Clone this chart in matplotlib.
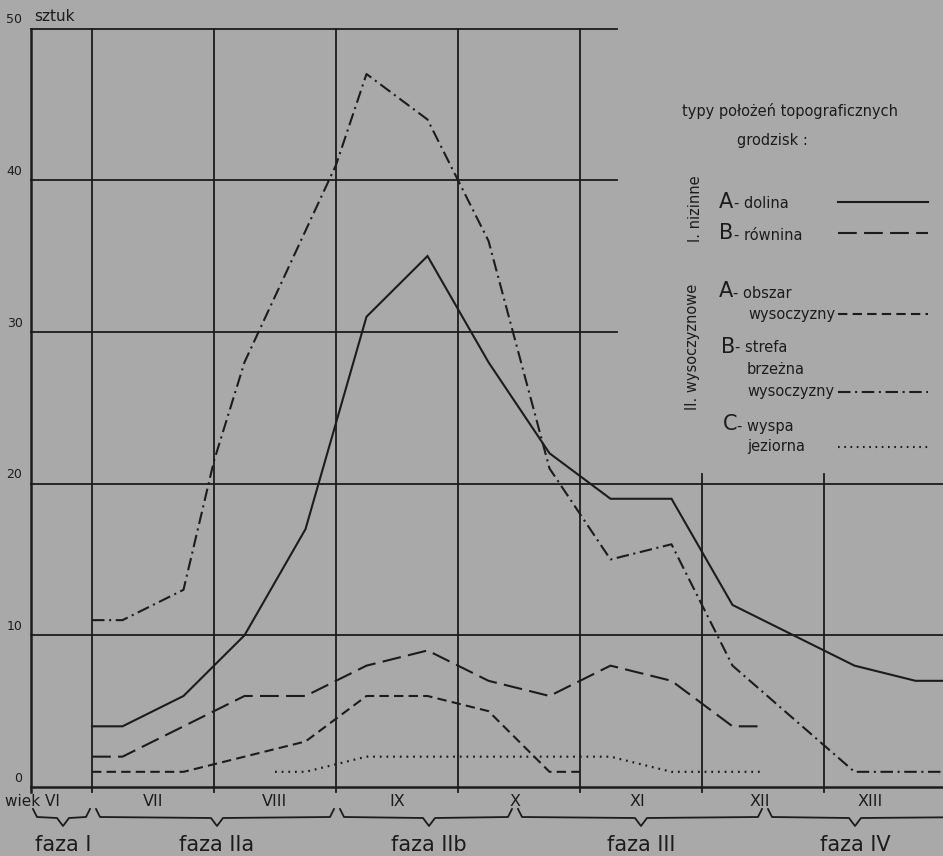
import matplotlib
matplotlib.use("Agg")
import matplotlib.pyplot as plt
from matplotlib import font_manager
from matplotlib.lines import Line2D

# font: narrow sans if we have one
names = set(f.name for f in font_manager.fontManager.ttflist)
FONT = "Liberation Sans Narrow" if "Liberation Sans Narrow" in names else "DejaVu Sans"
plt.rcParams['font.family'] = [FONT, 'DejaVu Sans']

BG = "#a9a9a9"
INK = "#1c1c1c"

# x in "century" units: 7.0 = boundary VI/VII, 8.0 = VII/VIII, ...
dolina_x = [7.0, 7.25, 7.75, 8.25, 8.75, 9.25, 9.75, 10.25, 10.75, 11.25, 11.75, 12.25, 13.25, 13.75, 14.0]
dolina_y = [4, 4, 6, 10, 17, 31, 35, 28, 22, 19, 19, 12, 8, 7, 7]

rownina_x = [7.0, 7.25, 8.25, 8.75, 9.25, 9.75, 10.25, 10.75, 11.25, 11.75, 12.25, 12.5]
rownina_y = [2, 2, 6, 6, 8, 9, 7, 6, 8, 7, 4, 4]

obszar_x = [7.0, 7.75, 8.75, 9.25, 9.75, 10.25, 10.75, 11.0]
obszar_y = [1, 1, 3, 6, 6, 5, 1, 1]

strefa_x = [7.0, 7.25, 7.75, 8.0, 8.25, 9.0, 9.25, 9.75, 10.25, 10.75, 11.25, 11.75, 12.25, 13.25, 14.0]
strefa_y = [11, 11, 13, 21.5, 28, 41, 47, 44, 36, 21, 15, 16, 8, 1, 1]

wyspa_x = [8.5, 8.75, 9.25, 11.25, 11.75, 12.5]
wyspa_y = [1, 1, 2, 2, 1, 1]

yticks = [0, 10, 20, 30, 40, 50]
centuries = ["VII", "VIII", "IX", "X", "XI", "XII", "XIII"]
phases = ["faza I", "faza IIa", "faza IIb", "faza III", "faza IV"]

W, H = 943, 856
fig = plt.figure(figsize=(W / 100, H / 100), dpi=100, facecolor=BG)
ax = fig.add_axes([0, 0, 1, 1])
ax.set_facecolor(BG)
ax.axis("off")

# pixel -> data mapping of the original sheet
X0 = 7 - 92 / 122
X1 = 7 + (W - 92) / 122
Y0 = (787 - H) / 15.17
Y1 = 787 / 15.17
ax.set_xlim(X0, X1)
ax.set_ylim(Y0, Y1)

def fx(px):
    return px / W

def fy(py):
    return 1 - py / H

# grid
lw_grid = 1.3
for v in [50, 40, 30]:
    ax.plot([6.5, 11.3], [v, v], color=INK, lw=lw_grid)
for v in [20, 10]:
    ax.plot([6.5, X1], [v, v], color=INK, lw=lw_grid)
ax.plot([6.5, X1], [0, 0], color=INK, lw=1.8)
ax.plot([6.5, 6.5], [-0.3, 50], color=INK, lw=1.8)
for c in [7, 8, 9, 10, 11]:
    ax.plot([c, c], [-0.35, 50], color=INK, lw=lw_grid)
for c in [12, 13]:
    ax.plot([c, c], [-0.35, 20.6], color=INK, lw=lw_grid)

# y labels
for v in yticks:
    ax.text(6.5 - 0.07, v + 0.15, str(v), ha="right", va="bottom", fontsize=9, color=INK)
ax.text(6.53, 50.3, "sztuk", ha="left", va="bottom", fontsize=11, color=INK)

# data lines
lw = 1.5
ax.plot(dolina_x, dolina_y, color=INK, lw=lw, solid_joinstyle="miter")
ax.plot(rownina_x, rownina_y, color=INK, lw=lw, linestyle=(0, (9, 3.5)))
ax.plot(obszar_x, obszar_y, color=INK, lw=lw, linestyle=(0, (4.5, 2.5)))
ax.plot(strefa_x, strefa_y, color=INK, lw=lw, linestyle=(0, (6, 2.2, 1, 2.2)))
ax.plot(wyspa_x, wyspa_y, color=INK, lw=1.6, linestyle=(0, (0.8, 2.2)))

# century labels
cent_pos = [7.5, 8.5, 9.5, 10.47, 11.47, 12.47, 13.38]
ax.text(fx(60), fy(801), "wiek VI", transform=fig.transFigure, ha="right", va="center",
        fontsize=11, color=INK)
for c, name in zip(cent_pos, centuries):
    ax.text(c, (787 - 801) / 15.17, name, ha="center", va="center", fontsize=11.5, color=INK)

# braces and phase names
braces = [(33, 63, 90), (96, 217, 334), (340, 429, 512), (518, 641, 762), (768, 855, 990)]
for (a, t, b), name in zip(braces, phases):
    xs = [a, a + 4, t - 6, t, t + 6, b - 4, b]
    ys = [809, 817, 818, 826, 818, 817, 809]
    fig.add_artist(Line2D([fx(p) for p in xs], [fy(p) for p in ys],
                          transform=fig.transFigure, color=INK, lw=1.3))
    fig.text(fx(t), fy(845), name, ha="center", va="center", fontsize=15, color=INK)

# legend
def t(px, py, s, size=10.5, **kw):
    fig.text(fx(px), fy(py), s, ha=kw.pop("ha", "left"), va="center", fontsize=size,
             color=INK, **kw)

t(682, 111, "typy położeń topograficznych")
t(737, 140, "grodzisk :")
t(695, 209, "I. nizinne", ha="center", rotation=90)
t(692, 347, "II. wysoczyznowe", ha="center", rotation=90)

t(719, 202, "A", 15); t(734, 204, "- dolina")
t(719, 233, "B", 15); t(734, 235, "- równina")
t(719, 291, "A", 15); t(733, 293, "- obszar")
t(748, 314, "wysoczyzny")
t(721, 347, "B", 15); t(735, 348, "- strefa")
t(747, 369, "brzeżna")
t(747, 392, "wysoczyzny")
t(723, 424, "C", 15); t(737, 426, "- wyspa")
t(747, 446, "jeziorna")

samples = [
    (202, dict(linestyle="-")),
    (233, dict(linestyle=(0, (9, 3.5)))),
    (314, dict(linestyle=(0, (4.5, 2.5)))),
    (392, dict(linestyle=(0, (6, 2.2, 1, 2.2)))),
    (447, dict(linestyle=(0, (0.8, 2.2)))),
]
for py, st in samples:
    fig.add_artist(Line2D([fx(838), fx(928)], [fy(py), fy(py)],
                          transform=fig.transFigure, color=INK, lw=lw, **st))

fig.savefig("out.png", dpi=100, facecolor=BG)
